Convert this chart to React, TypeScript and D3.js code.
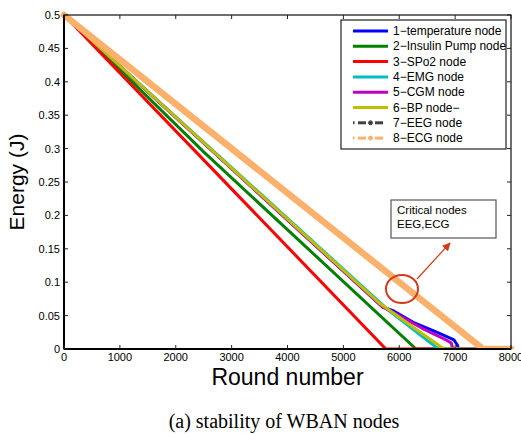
import React from "react";
import * as d3 from "d3";

// Residual energy (J) of each WBAN node versus simulation round
const nodeNames = [
  "1−temperature node",
  "2−Insulin Pump node",
  "3−SPo2 node",
  "4−EMG node",
  "5−CGM node",
  "6−BP node−",
  "7−EEG node",
  "8−ECG node",
];

const temperatureNode: [number, number][] = [
  [0, 0.5], [5700, 0.063], [5900, 0.057], [6250, 0.04], [6700, 0.024],
  [6980, 0.0135], [7040, 0.006], [7060, 0], [8000, 0],
];
const insulinPumpNode: [number, number][] = [
  [0, 0.5], [2500, 0.295], [6300, 0], [8000, 0],
];
const spo2Node: [number, number][] = [
  [0, 0.5], [5760, 0], [8000, 0],
];
const emgNode: [number, number][] = [
  [0, 0.5], [5820, 0.057], [6700, 0], [8000, 0],
];
const cgmNode: [number, number][] = [
  [0, 0.5], [5700, 0.063], [6000, 0.05], [6410, 0.031], [6840, 0.0135],
  [6930, 0.009], [6960, 0], [8000, 0],
];
const bpNode: [number, number][] = [
  [0, 0.5], [5640, 0.069], [6800, 0], [8000, 0],
];
const eegNode: [number, number][] = [
  [0, 0.5], [7500, 0], [8000, 0],
];
const ecgNode: [number, number][] = [
  [0, 0.5], [7500, 0], [8000, 0],
];

const allSeries = [
  temperatureNode, insulinPumpNode, spo2Node, emgNode,
  cgmNode, bpNode, eegNode, ecgNode,
];
const colors = [
  "#0000ff", "#008000", "#ff0000", "#00bfbf",
  "#bf00bf", "#bfbf00", "#404040", "#fbb06b",
];

const xTicks = [0, 1000, 2000, 3000, 4000, 5000, 6000, 7000, 8000];
const yTicks = [0, 0.05, 0.1, 0.15, 0.2, 0.25, 0.3, 0.35, 0.4, 0.45, 0.5];

const W = 521;
const H = 434;
const plot = { left: 64, right: 511, top: 15, bottom: 349 };

export default function App() {
  const x = d3.scaleLinear().domain([0, 8000]).range([plot.left, plot.right]);
  const y = d3.scaleLinear().domain([0, 0.5]).range([plot.bottom, plot.top]);
  const line = d3
    .line<[number, number]>()
    .x((d) => x(d[0]))
    .y((d) => y(d[1]));

  const font = "'Liberation Sans', Arial, Helvetica, sans-serif";
  const tickLen = 4;
  const annot = "#d63a18";

  const legendX = 341;
  const legendY = 20;
  const rowY = (i: number) => 31 + i * 15.3;

  return (
    <svg
      width={W}
      height={H}
      style={{ position: "absolute", left: 0, top: 0, background: "#fff" }}
      fontFamily={font}
    >
      <defs>
        <clipPath id="plotClip">
          <rect x={plot.left - 6} y={plot.top - 6} width={plot.right - plot.left + 12} height={plot.bottom - plot.top + 6} />
        </clipPath>
        <marker id="arrowHead" viewBox="0 0 10 10" refX="9" refY="5" markerWidth="7" markerHeight="7" orient="auto">
          <path d="M0,0 L10,5 L0,10 z" fill={annot} />
        </marker>
      </defs>

      {/* series */}
      <g clipPath="url(#plotClip)">
        {allSeries.map((s, i) => (
          <path
            key={i}
            d={line(s) ?? ""}
            fill="none"
            stroke={colors[i]}
            strokeWidth={i === 7 ? 6.5 : 3}
            strokeLinejoin="round"
            strokeLinecap="round"
            strokeDasharray={i === 6 ? "8 3 2 3" : undefined}
          />
        ))}
      </g>

      {/* axes frame */}
      <rect
        x={plot.left}
        y={plot.top}
        width={plot.right - plot.left}
        height={plot.bottom - plot.top}
        fill="none"
        stroke="#222"
        strokeWidth={1.3}
      />
      <line x1={plot.left} y1={plot.bottom} x2={plot.right} y2={plot.bottom} stroke="#000" strokeWidth={2} />
      <line x1={plot.left} y1={plot.top} x2={plot.left} y2={plot.bottom} stroke="#000" strokeWidth={2} />

      {/* x ticks */}
      {xTicks.map((t) => (
        <g key={"x" + t}>
          <line x1={x(t)} x2={x(t)} y1={plot.bottom} y2={plot.bottom - tickLen} stroke="#222" />
          <line x1={x(t)} x2={x(t)} y1={plot.top} y2={plot.top + tickLen} stroke="#222" />
          <text x={x(t)} y={361} fontSize={11} textAnchor="middle" fill="#000">
            {t}
          </text>
        </g>
      ))}

      {/* y ticks */}
      {yTicks.map((t) => (
        <g key={"y" + t}>
          <line x1={plot.left} x2={plot.left + tickLen} y1={y(t)} y2={y(t)} stroke="#222" />
          <line x1={plot.right} x2={plot.right - tickLen} y1={y(t)} y2={y(t)} stroke="#222" />
          <text x={60} y={y(t) + 4} fontSize={11} textAnchor="end" fill="#000">
            {d3.format("~g")(t)}
          </text>
        </g>
      ))}

      {/* axis titles */}
      <text x={(plot.left + plot.right) / 2} y={385} fontSize={23} textAnchor="middle" fill="#000">
        Round number
      </text>
      <text
        transform={`translate(24, ${(plot.top + plot.bottom) / 2}) rotate(-90)`}
        fontSize={21}
        textAnchor="middle"
        fill="#000"
        x={0}
        y={0}
      >
        Energy (J)
      </text>

      {/* legend */}
      <rect x={legendX} y={legendY} width={165} height={129} fill="#fff" stroke="#222" strokeWidth={1.2} />
      {nodeNames.map((name, i) => {
        const ly = rowY(i);
        const c = colors[i];
        const dashed = i >= 6;
        return (
          <g key={name}>
            {dashed ? (
              <g stroke={c} strokeWidth={3}>
                <line x1={353} x2={354.5} y1={ly} y2={ly} />
                <line x1={358} x2={366} y1={ly} y2={ly} />
                <circle cx={370.5} cy={ly} r={2} fill={c} strokeWidth={1} />
                <line x1={375} x2={383} y1={ly} y2={ly} />
              </g>
            ) : (
              <line x1={353} x2={388} y1={ly} y2={ly} stroke={c} strokeWidth={3} />
            )}
            <text x={393} y={ly + 4} fontSize={12} fill="#000">
              {name}
            </text>
          </g>
        );
      })}

      {/* annotation */}
      <ellipse cx={402} cy={289} rx={16} ry={14} fill="none" stroke={annot} strokeWidth={2} />
      <line x1={417} y1={279} x2={450} y2={243} stroke={annot} strokeWidth={1.2} markerEnd="url(#arrowHead)" />
      <rect x={391} y={200} width={105} height={38} fill="#fff" stroke="#555" strokeWidth={1.2} />
      <text x={397} y={214} fontSize={11.5} fill="#000">
        Critical nodes
      </text>
      <text x={397} y={228} fontSize={11.5} fill="#000">
        EEG,ECG
      </text>

      {/* caption */}
      <text x={284} y={428} fontSize={20} textAnchor="middle" fontFamily="'Liberation Serif', 'Times New Roman', serif" fill="#000">
        (a) stability of WBAN nodes
      </text>
    </svg>
  );
}
